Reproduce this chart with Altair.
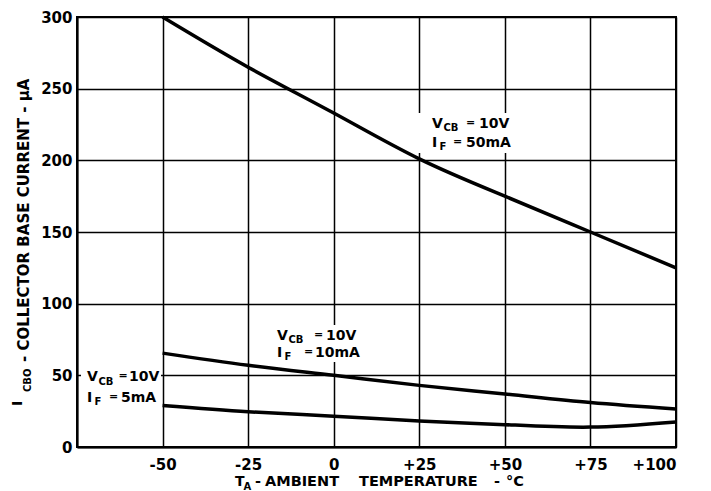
import altair as alt
import pandas as pd

# ---- data ----
temps = [-50, -25, 0, 25, 50, 75, 100]
icbo_50mA = [300, 265, 233, 201, 175, 150, 125]
icbo_10mA = [65.5, 57, 50, 43, 37, 31, 26.5]
icbo_5mA = [29, 24.6, 21.5, 18.2, 15.6, 13.9, 17.5]

x_ticks = [-75, -50, -25, 0, 25, 50, 75, 100]
y_ticks = [0, 25, 50, 75, 100, 125, 150, 175, 200, 225, 250, 275, 300]

W, H = 599, 430
FONT = "DejaVu Sans"

rows = []
for name, vals in (("50mA", icbo_50mA), ("10mA", icbo_10mA), ("5mA", icbo_5mA)):
    for t, v in zip(temps, vals):
        rows.append({"T": t, "I": v, "s": name})
curves = pd.DataFrame(rows)

# conversion from reference pixel positions to data units (annotations only)
def tx(px):
    return -75 + (px - 77) * 175 / W

def iy(py):
    return (447 - py) * 300 / H

ann_pieces = [
    (432, 124, "V", 14), (443.5, 128, "CB", 10), (466, 123, "=", 11), (479, 124, "10V", 14),
    (432, 143, "I", 14), (439.5, 147, "F", 10), (453, 142, "=", 11), (466, 143, "50mA", 14),
    (277, 336, "V", 14), (288.5, 340, "CB", 10), (314, 335, "=", 11), (326, 336, "10V", 14),
    (277, 353, "I", 14), (284.5, 357, "F", 10), (304, 352, "=", 11), (315, 353, "10mA", 14),
    (87, 377, "V", 14), (98.5, 382, "CB", 10), (118.5, 376, "=", 11), (129, 377, "10V", 14),
    (87, 398, "I", 14), (94.5, 402, "F", 10), (109, 397, "=", 11), (121, 398, "5mA", 14),
]
ann = pd.DataFrame([{"T": tx(p[0]), "I": iy(p[1]), "txt": p[2], "fs": p[3]} for p in ann_pieces])

boxes_px = [(418, 113, 513, 153), (272, 325, 360, 362), (81, 364, 161, 404)]
boxes = pd.DataFrame([{"T1": tx(a), "I1": iy(b), "T2": tx(c), "I2": iy(d)} for a, b, c, d in boxes_px])

# axis title pieces (pixel offsets relative to plot origin)
ytitle = pd.DataFrame([
    {"px": 18 - 77, "py": 406 - 17, "txt": "I", "fs": 14},
    {"px": 27.5 - 77, "py": 392 - 17, "txt": "CBO", "fs": 10},
    {"px": 24 - 77, "py": 362 - 17, "txt": "-  COLLECTOR  BASE  CURRENT  -  μA", "fs": 15},
])
xtitle = pd.DataFrame([
    {"px": 235 - 77, "py": 482 - 17, "txt": "T", "fs": 14},
    {"px": 243.5 - 77, "py": 487 - 17, "txt": "A", "fs": 10},
    {"px": 255 - 77, "py": 482 - 17, "txt": "-", "fs": 14.5},
    {"px": 265 - 77, "py": 482 - 17, "txt": "AMBIENT", "fs": 14.5},
    {"px": 359 - 77, "py": 482 - 17, "txt": "TEMPERATURE", "fs": 14.5},
    {"px": 494 - 77, "py": 482 - 17, "txt": "-", "fs": 14.5},
    {"px": 506 - 77, "py": 482 - 17, "txt": "°C", "fs": 14.5},
])

xscale = alt.Scale(domain=[-75, 100], nice=False, zero=False)
yscale = alt.Scale(domain=[0, 300], nice=False)

lines = alt.Chart(curves).mark_line(color="black", strokeWidth=3.5, interpolate="natural").encode(
    x=alt.X("T:Q", scale=xscale, axis=alt.Axis(
        values=x_ticks, title=None, ticks=False, labelPadding=10,
        labelExpr="datum.value == -75 ? '' : (datum.value > 0 ? '+' + datum.value : '' + datum.value)",
    )),
    y=alt.Y("I:Q", scale=yscale, axis=alt.Axis(
        values=y_ticks, title=None, ticks=False, labelPadding=5,
        labelExpr="datum.value % 50 == 0 ? '' + datum.value : ''",
    )),
    detail="s:N",
)

rects = alt.Chart(boxes).mark_rect(color="white").encode(
    x=alt.X("T1:Q", scale=xscale), x2="T2:Q",
    y=alt.Y("I1:Q", scale=yscale), y2="I2:Q",
)

labels = alt.Chart(ann).mark_text(
    align="left", baseline="middle", font=FONT, fontWeight="bold", color="black"
).encode(
    x=alt.X("T:Q", scale=xscale), y=alt.Y("I:Q", scale=yscale),
    text="txt:N", size=alt.Size("fs:Q", scale=None, legend=None),
)

ytl = alt.Chart(ytitle).mark_text(
    align="left", baseline="middle", angle=270, font=FONT, fontWeight="bold", color="black"
).encode(
    x=alt.X("px:Q", scale=None), y=alt.Y("py:Q", scale=None),
    text="txt:N", size=alt.Size("fs:Q", scale=None, legend=None),
)

xtl = alt.Chart(xtitle).mark_text(
    align="left", baseline="middle", font=FONT, fontWeight="bold", color="black"
).encode(
    x=alt.X("px:Q", scale=None), y=alt.Y("py:Q", scale=None),
    text="txt:N", size=alt.Size("fs:Q", scale=None, legend=None),
)

chart = alt.layer(rects, lines, labels, ytl, xtl).properties(
    width=W, height=H,
    autosize=alt.AutoSizeParams(type="none"),
    padding={"left": 69, "top": 9, "right": 27, "bottom": 44},
    background="white",
).configure_view(
    stroke="black", strokeWidth=2,
).configure_axis(
    grid=True, gridColor="black", gridWidth=1.5, gridOpacity=1,
    domainColor="black", domainWidth=2,
    labelFont=FONT, labelFontWeight="bold", labelFontSize=15, labelColor="black",
)

chart.save("out.html", embed_options={"renderer": "svg", "actions": False})
